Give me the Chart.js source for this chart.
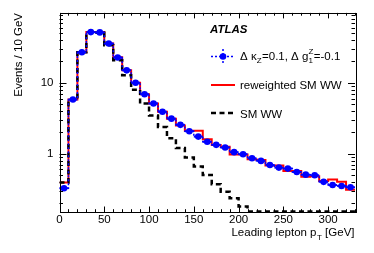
<!DOCTYPE html>
<html><head><meta charset="utf-8">
<script src="https://cdn.jsdelivr.net/npm/chart.js@4/dist/chart.umd.min.js"></script>
<style>html,body{margin:0;padding:0;background:#fff}#wrap{width:374px;height:253px;position:relative}</style>
</head><body><div id="wrap"><canvas id="c" width="374" height="253"></canvas></div>
<script>
// ---- data (bins of 10 GeV) ----
const binLowEdges = [0,10,20,30,40,50,60,70,80,90,100,110,120,130,140,150,160,170,180,190,200,210,220,230,240,250,260,270,280,290,300,310,320];
const binWidth = 10;
const aTGC = [0.325,5.8,27,52,51.5,35.8,22.8,15,10,6.9,5.1,3.9,3.12,2.55,2.07,1.74,1.47,1.33,1.22,1.05,0.98,0.86,0.79,0.69,0.635,0.615,0.55,0.505,0.495,0.40,0.36,0.35,0.335];
const reweightedSM = [0.39,5.8,27,52,52,36,23,15,10,6.9,5.1,3.9,3.1,2.5,2.1,2.1,1.6,1.32,1.25,0.97,0.97,0.83,0.81,0.68,0.68,0.57,0.57,0.47,0.48,0.41,0.43,0.40,0.31];
const smWW = [0.39,5.8,27,52,51,34,20.8,12.8,8.0,5.1,3.45,2.37,1.65,1.2,0.88,0.66,0.5,0.37,0.29,0.235,0.18,0.152,0.152,0.152,0.152,0.152,0.152,0.152,0.152,0.152,0.152,0.152,0.152];
const xTickLabels = [0,50,100,150,200,250,300];
const yTickLabels = [1,10];
const yMinorTicks = [0.2,0.3,0.4,0.5,0.6,0.7,0.8,0.9,2,3,4,5,6,7,8,9,20,30,40,50,60,70,80,90];

const FONT = "'Liberation Sans', Arial, Helvetica, sans-serif";

function stepPoints(vals){
  const pts = vals.map((v,i)=>({x:binLowEdges[i], y:v}));
  pts.push({x:binLowEdges[binLowEdges.length-1]+binWidth, y:vals[vals.length-1]});
  return pts;
}
function centerPoints(vals){
  return vals.map((v,i)=>({x:binLowEdges[i]+binWidth/2, y:v}));
}

const framePlugin = {
  id:'frame',
  afterDatasetsDraw(chart){
    const ctx = chart.ctx, xs = chart.scales.x, ys = chart.scales.y;
    ctx.save();
    ctx.strokeStyle = '#0000ff'; ctx.lineWidth = 2;
    aTGC.forEach((v,i)=>{
      const y = ys.getPixelForValue(v);
      ctx.beginPath();
      ctx.moveTo(xs.getPixelForValue(binLowEdges[i]), y);
      ctx.lineTo(xs.getPixelForValue(binLowEdges[i]+binWidth), y);
      ctx.stroke();
    });
    ctx.restore();
  },
  afterDraw(chart){
    const ctx = chart.ctx, xs = chart.scales.x, ys = chart.scales.y, a = chart.chartArea;
    ctx.save();
    ctx.strokeStyle = '#000'; ctx.lineWidth = 1;
    ctx.strokeRect(Math.round(a.left)+0.5, Math.round(a.top)+0.5, Math.round(a.right-a.left), Math.round(a.bottom-a.top));
    ctx.beginPath();
    for (let v = 0; v <= 330; v += 10){
      const px = Math.round(xs.getPixelForValue(v))+0.5;
      const len = (v % 50 === 0) ? 5.5 : 2.8;
      ctx.moveTo(px, a.bottom); ctx.lineTo(px, a.bottom-len);
      ctx.moveTo(px, a.top); ctx.lineTo(px, a.top+len);
    }
    const yt = yTickLabels.map(v=>[v,7]).concat(yMinorTicks.map(v=>[v,3.5]));
    yt.forEach(([v,len])=>{
      const py = Math.round(ys.getPixelForValue(v))+0.5;
      ctx.moveTo(a.left, py); ctx.lineTo(a.left+len, py);
      ctx.moveTo(a.right, py); ctx.lineTo(a.right-len, py);
    });
    ctx.stroke();

    ctx.fillStyle = '#000';
    ctx.textBaseline = 'alphabetic';
    const s1 = 'Leading lepton p', sub = 'T', s2 = ' [GeV]';
    ctx.font = '11.5px ' + FONT; const w1 = ctx.measureText(s1).width, w3 = ctx.measureText(s2).width;
    ctx.font = '8px ' + FONT; const w2 = ctx.measureText(sub).width;
    let x0 = 354 - (w1+w2+w3);
    ctx.font = '11.5px ' + FONT; ctx.textAlign='left';
    ctx.fillText(s1, x0, 236);
    ctx.font = '8px ' + FONT; ctx.fillText(sub, x0+w1+0.5, 240);
    ctx.font = '11.5px ' + FONT; ctx.fillText(s2, x0+w1+w2+0.5, 236);
    ctx.save();
    ctx.translate(21.5, 13);
    ctx.rotate(-Math.PI/2);
    ctx.textAlign = 'right';
    ctx.fillText('Events / 10 GeV', 0, 0);
    ctx.restore();

    ctx.textAlign='left';
    ctx.font = 'italic bold 11.5px ' + FONT;
    ctx.fillText('ATLAS', 210, 33);

    const lx0 = 211, lx1 = 235, tx = 240;
    ctx.strokeStyle = '#0000ff'; ctx.lineWidth = 1.5; ctx.setLineDash([2,2]);
    ctx.beginPath(); ctx.moveTo(lx0,56.5); ctx.lineTo(lx1,56.5);
    ctx.moveTo(223,49); ctx.lineTo(223,64); ctx.stroke();
    ctx.setLineDash([]);
    ctx.fillStyle = '#0000ff';
    ctx.beginPath(); ctx.arc(223,56.5,3.3,0,Math.PI*2); ctx.fill();
    ctx.fillStyle = '#000';
    let x = tx;
    const big = '11.5px ' + FONT, small = '8px ' + FONT;
    function put(t, f, dy){ ctx.font = f; ctx.fillText(t, x, 60+dy); return ctx.measureText(t).width; }
    x += put('\u0394 \u03ba', big, 0);
    x += put('Z', small, 3) + 0.5;
    x += put('=0.1, \u0394 g', big, 0);
    const wz = put('Z', small, -6); put('1', small, 3);
    x += wz + 0.5;
    put('=-0.1', big, 0);
    ctx.strokeStyle = '#ff0000'; ctx.lineWidth = 2;
    ctx.beginPath(); ctx.moveTo(lx0,85); ctx.lineTo(lx1,85); ctx.stroke();
    ctx.font = big; ctx.fillText('reweighted SM WW', tx, 89);
    ctx.strokeStyle = '#000'; ctx.lineWidth = 2.5; ctx.setLineDash([5,3.5]);
    ctx.beginPath(); ctx.moveTo(lx0,113); ctx.lineTo(lx1,113); ctx.stroke();
    ctx.setLineDash([]);
    ctx.fillText('SM WW', tx, 117.5);
    ctx.restore();
  }
};

new Chart(document.getElementById('c'), {
  type:'line',
  data:{
    datasets:[
      {label:'aTGC points', data:centerPoints(aTGC), showLine:false, pointRadius:3.3, pointBackgroundColor:'#0000ff', pointBorderWidth:0, pointBorderColor:'#0000ff'},
      {label:'aTGC hist', data:stepPoints(aTGC), stepped:'before', borderColor:'#0000ff', borderWidth:1.5, borderDash:[2,2], pointRadius:0, fill:false},
      {label:'SM WW', data:stepPoints(smWW), stepped:'before', borderColor:'#000000', borderWidth:2.5, borderDash:[5,3.5], pointRadius:0, fill:false},
      {label:'reweighted SM WW', data:stepPoints(reweightedSM), stepped:'before', borderColor:'#ff0000', borderWidth:2, pointRadius:0, fill:false}
    ]
  },
  options:{
    responsive:false, animation:false, devicePixelRatio:1,
    layout:{padding:{left:0, right:19, top:12.7, bottom:0}},
    plugins:{legend:{display:false}, tooltip:{enabled:false}},
    scales:{
      x:{type:'linear', min:0, max:330,
        afterBuildTicks:s=>{s.ticks = xTickLabels.map(v=>({value:v}));},
        ticks:{color:'#000', font:{family:FONT, size:11.5}, padding:1, maxRotation:0, autoSkip:false, callback:v=>String(v)},
        grid:{display:false, drawTicks:false}, border:{display:false},
        afterFit:s=>{s.height = 41;}
      },
      y:{type:'logarithmic', min:0.15, max:97,
        afterBuildTicks:s=>{s.ticks = yTickLabels.map(v=>({value:v}));},
        ticks:{color:'#000', font:{family:FONT, size:11.5}, padding:6, autoSkip:false, callback:v=>String(v)},
        grid:{display:false, drawTicks:false}, border:{display:false},
        afterFit:s=>{s.width = 59.5;}
      }
    }
  },
  plugins:[framePlugin]
});
</script></body></html>
